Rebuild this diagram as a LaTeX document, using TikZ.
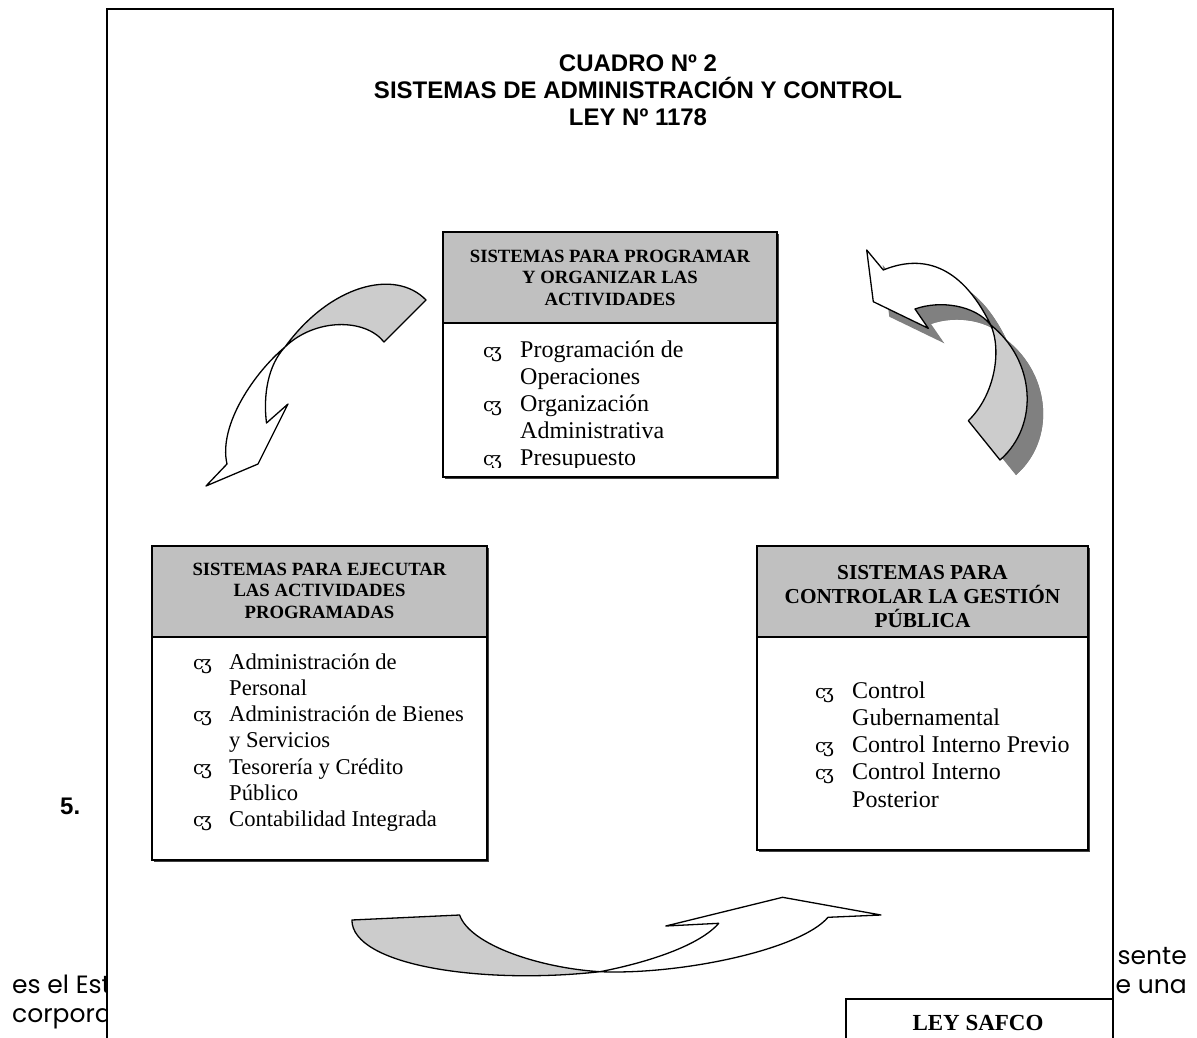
\documentclass[tikz,border=0pt]{standalone}
\usepackage{fontspec}
\setmainfont{Liberation Serif}
\newfontfamily\arialf{Liberation Sans}
\newfontfamily\gothicf{Poppins}
\newfontfamily\symf{DejaVu Serif}
\definecolor{hdrgray}{HTML}{C0C0C0}
\definecolor{ribgray}{HTML}{CCCCCC}
\definecolor{shadowgray}{HTML}{808080}
\newcommand\bulsym{{\symf\fontsize{19}{19}\selectfont c\kern-0.14em ʒ}}
\newcommand\bulcell{\makebox[37pt][l]{\bulsym}}
\tikzset{
  frameline/.style={draw=black, line width=1.5pt},
  boxline/.style={draw=black, line width=1.4pt},
  boxshadow/.style={fill=black!75},
  hdrtext/.style={align=center, inner sep=0pt, font=\bfseries\fontsize{18.7}{21.5}\selectfont},
  itemtext/.style={anchor=base west, inner sep=0pt},
  ribback/.style={draw=black, line width=1.3pt, fill=ribgray, line join=round},
  ribface/.style={draw=black, line width=1.3pt, fill=white, line join=round},
  ribshadow/.style={fill=shadowgray},
  bgtext/.style={inner sep=0pt, font=\gothicf\fontsize{25}{29}\selectfont},
}
\begin{document}
\begin{tikzpicture}[x=1pt,y=-1pt]
\useasboundingbox (0,0) rectangle (1197,1038);
\clip (0,0) rectangle (1197,1038);

% text of the page behind the frame
\node[bgtext, anchor=base east] (bgA) at (1187,964) {sente};
\node[bgtext, anchor=base east] (bgB) at (1187,993) {e una};
\node[bgtext, anchor=base west] (bgC) at (12,993) {es el Est};
\node[bgtext, anchor=base west] (bgD) at (12,1022) {corpora};
\node[anchor=base west, inner sep=0pt, font=\arialf\bfseries\fontsize{24}{24}\selectfont] (num) at (60,814) {5.};

% frame
\fill[white] (107,9) rectangle (1113,1050);
\draw[frameline] (107,1050) -- (107,9) -- (1113,9) -- (1113,1050);

% title
\node[align=center, inner sep=0pt, font=\arialf\bfseries\fontsize{24}{27}\selectfont] (title) at (638,90)
  {CUADRO Nº 2\\SISTEMAS DE ADMINISTRACIÓN Y CONTROL\\LEY Nº 1178};

% ---- top box
\fill[boxshadow] (445,234) rectangle (779,479);
\fill[white] (443,232) rectangle (777,477);
\fill[hdrgray] (443,232) rectangle (777,323);
\draw[boxline] (443,232) rectangle (777,477);
\draw[boxline] (443,323) -- (777,323);
\node[hdrtext] (topH) at (610,277.5) {SISTEMAS PARA PROGRAMAR\\Y ORGANIZAR LAS\\ACTIVIDADES};
\begin{scope}
\clip (443,324) rectangle (777,467);
\node[itemtext, font=\fontsize{24}{27}\selectfont] (topI) at (483,357)
  {\begin{tabular}[t]{@{}l@{}l@{}}
   \bulcell & Programación de\\
            & Operaciones\\
   \bulcell & Organización\\
            & Administrativa\\
   \bulcell & Presupuesto
   \end{tabular}};
\end{scope}

% ---- left box
\fill[boxshadow] (154,548) rectangle (489,862);
\fill[white] (152,546) rectangle (487,860);
\fill[hdrgray] (152,546) rectangle (487,637);
\draw[boxline] (152,546) rectangle (487,860);
\draw[boxline] (152,637) -- (487,637);
\node[hdrtext] (leftH) at (319.5,590.5) {SISTEMAS PARA EJECUTAR\\LAS ACTIVIDADES\\PROGRAMADAS};
\node[itemtext, font=\fontsize{22.6}{26.3}\selectfont] (leftI) at (193,669)
  {\begin{tabular}[t]{@{}l@{}l@{}}
   \makebox[36pt][l]{\bulsym} & Administración de\\
            & Personal\\
   \makebox[36pt][l]{\bulsym} & Administración de Bienes\\
            & y Servicios\\
   \makebox[36pt][l]{\bulsym} & Tesorería y Crédito\\
            & Público\\
   \makebox[36pt][l]{\bulsym} & Contabilidad Integrada
   \end{tabular}};

% ---- right box
\fill[boxshadow] (759,548) rectangle (1090,852);
\fill[white] (757,546) rectangle (1088,850);
\fill[hdrgray] (757,546) rectangle (1088,637);
\draw[boxline] (757,546) rectangle (1088,850);
\draw[boxline] (757,637) -- (1088,637);
\node[hdrtext, font=\bfseries\fontsize{21.3}{24}\selectfont] (rightH) at (922.5,596.3) {SISTEMAS PARA\\CONTROLAR LA GESTIÓN\\PÚBLICA};
\node[itemtext, font=\fontsize{24}{27.3}\selectfont] (rightI) at (815,698)
  {\begin{tabular}[t]{@{}l@{}l@{}}
   \bulcell & Control\\
            & Gubernamental\\
   \bulcell & Control Interno Previo\\
   \bulcell & Control Interno\\
            & Posterior
   \end{tabular}};

% ---- LEY SAFCO box
\draw[boxline, fill=white] (846,999) rectangle (1113,1050);
\node[inner sep=0pt, font=\bfseries\fontsize{23}{23}\selectfont] (safco) at (978,1023) {LEY SAFCO};

% ---- arrow 1 (upper left)
\coordinate (c1) at (285,347);
\draw[ribback] (426,300) .. controls (395,268) and (330,285) .. (c1)
   .. controls (315,318) and (365,318) .. (384,342) -- cycle;
\draw[ribface] (c1) .. controls (255,372) and (218,425) .. (227,464)
   -- (206,486) -- (258,464) -- (288,404) -- (266.5,423)
   .. controls (263,395) and (268,365) .. (c1) -- cycle;

% ---- arrow 2 (upper right, with shadow)
\coordinate (c2) at (990.7,325);
\begin{scope}[shift={(16,15)}]
\fill[ribshadow] (866.7,250) -- (883.3,270) .. controls (920,255) and (960,262) .. (990.7,325)
   .. controls (1002,350) and (995,395) .. (968.3,420.7) -- (1000,460)
   .. controls (1040,425) and (1035,360) .. (990.7,325)
   .. controls (975,305) and (940,300) .. (915,309) -- (928.3,328.3) -- (873.3,301.7) -- cycle;
\fill[ribshadow] (883.3,270) .. controls (920,255) and (960,262) .. (990.7,325)
   .. controls (1002,350) and (995,395) .. (968.3,420.7) -- (1000,460)
   .. controls (1040,425) and (1035,360) .. (990.7,325)
   .. controls (975,305) and (940,300) .. (915,309) -- cycle;
\end{scope}
\draw[ribback] (c2) .. controls (1002,350) and (995,395) .. (968.3,420.7) -- (1000,460)
   .. controls (1040,425) and (1035,360) .. (c2) -- cycle;
\draw[ribface] (866.7,250) -- (883.3,270) .. controls (920,255) and (960,262) .. (c2)
   .. controls (975,305) and (940,300) .. (915,309) -- (928.3,328.3) -- (873.3,301.7) -- cycle;

% ---- arrow 3 (bottom)
\coordinate (c3) at (600,971.7);
\draw[ribback] (351.9,920) .. controls (352,965) and (480,985) .. (c3)
   .. controls (540,968) and (470,945) .. (459.6,915) -- cycle;
\draw[ribface] (c3) .. controls (650,962) and (700,945) .. (718.7,923.3)
   -- (665.8,926) -- (782.6,897.3) -- (881,915) -- (828,917.3)
   .. controls (800,950) and (680,975) .. (c3) -- cycle;
\end{tikzpicture}
\end{document}
